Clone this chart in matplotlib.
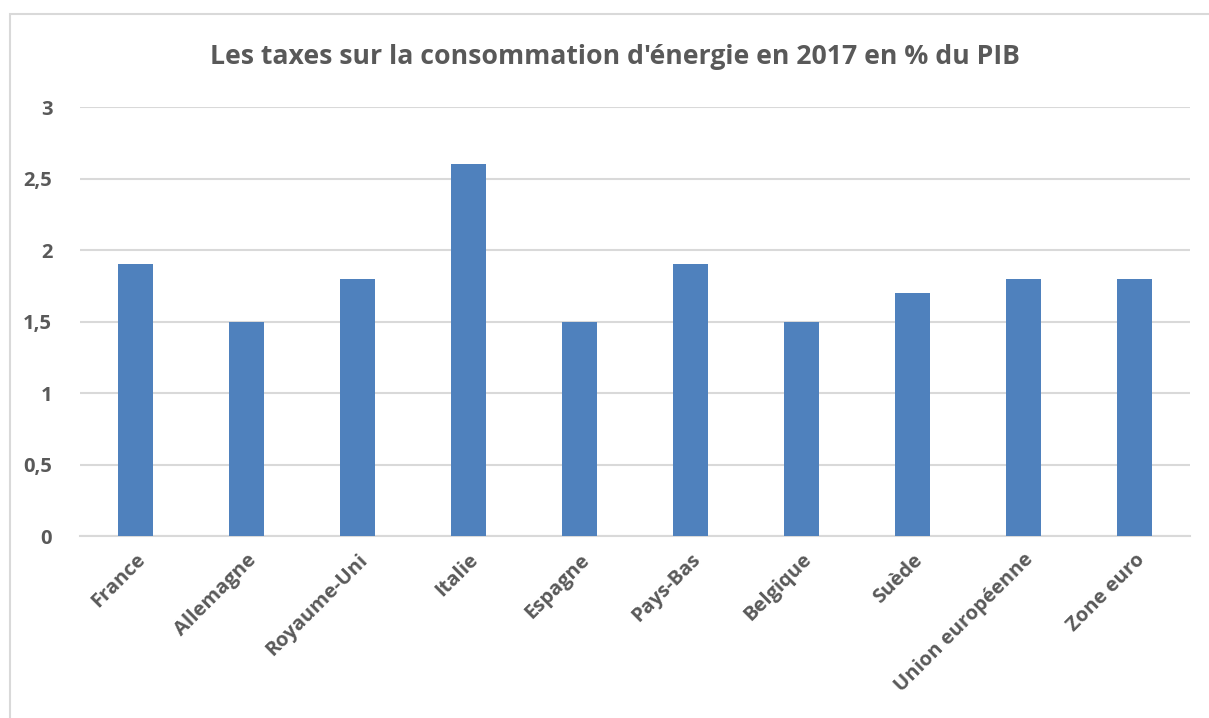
import matplotlib.pyplot as plt
from matplotlib.patches import Rectangle
import numpy as np

categories = ["France", "Allemagne", "Royaume-Uni", "Italie", "Espagne",
              "Pays-Bas", "Belgique", "Suède", "Union européenne", "Zone euro"]
values = [1.9, 1.5, 1.8, 2.6, 1.5, 1.9, 1.5, 1.7, 1.8, 1.8]
yticks = [0, 0.5, 1, 1.5, 2, 2.5, 3]
ytick_labels = ["0", "0,5", "1", "1,5", "2", "2,5", "3"]
title = "Les taxes sur la consommation d'énergie en 2017 en % du PIB"

TEXT = "#595959"
GRID = "#D9D9D9"
BAR = "#4F81BD"

plt.rcParams['font.family'] = ['Open Sans', 'DejaVu Sans']

W, H = 1209, 718
fig = plt.figure(figsize=(W / 100, H / 100), dpi=100)

# chart frame (open to the right and bottom)
fig.patches.append(Rectangle((10 / W, -0.05), 1.2, 1 - 14 / H + 0.05,
                             transform=fig.transFigure, fill=False,
                             edgecolor=GRID, linewidth=1.5, zorder=0))

ax = fig.add_axes([80 / W, 1 - 536 / H, (1190 - 80) / W, (536 - 107) / H])
x = np.arange(len(categories))
ax.bar(x, values, width=0.315, color=BAR, zorder=3)

ax.set_xlim(-0.5, len(categories) - 0.5)
ax.set_ylim(0, 3)
ax.set_yticks(yticks)
ax.set_yticklabels(ytick_labels, fontsize=14.5, fontweight='bold', color=TEXT)
ax.set_xticks(x)
ax.set_xticklabels(categories, rotation=45, ha='right', rotation_mode='anchor',
                   fontsize=14.5, fontweight='bold', color=TEXT)
ax.tick_params(axis='both', length=0)
ax.tick_params(axis='y', pad=20)
ax.tick_params(axis='x', pad=10)
ax.yaxis.grid(True, color=GRID, linewidth=1.5, zorder=0)
for s in ["top", "right", "left"]:
    ax.spines[s].set_visible(False)
ax.spines["bottom"].set_color(GRID)
ax.spines["bottom"].set_linewidth(1.5)

fig.text(615 / W, 1 - 57 / H, title, ha='center', va='center',
         fontsize=19.2, fontweight='bold', color=TEXT)

fig.savefig("out.png", dpi=100, facecolor='white')
